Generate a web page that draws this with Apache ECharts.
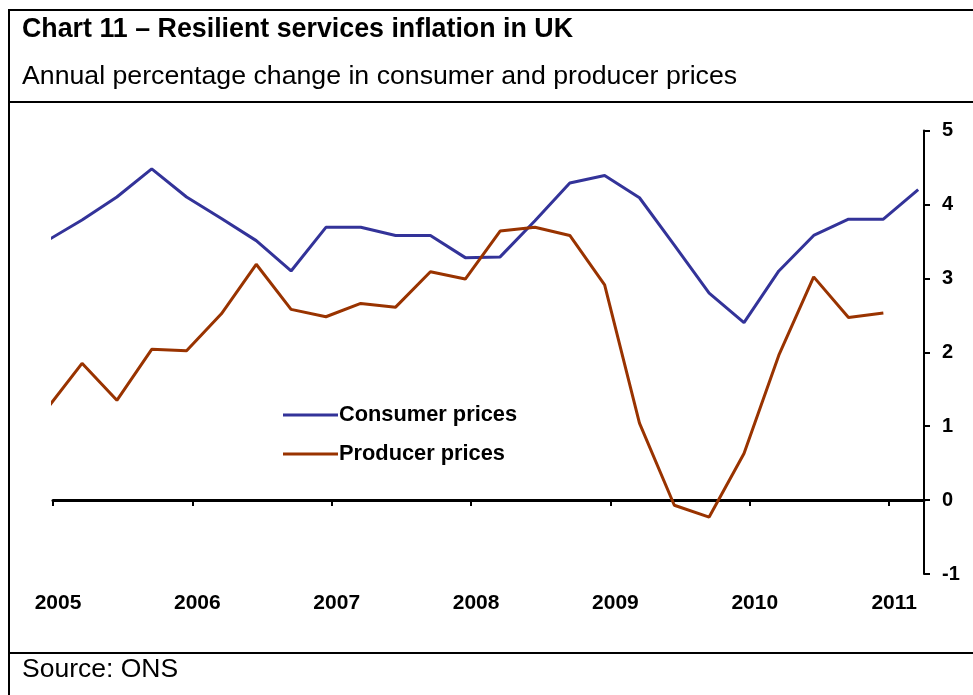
<!DOCTYPE html>
<html>
<head>
<meta charset="utf-8">
<script src="https://cdn.jsdelivr.net/npm/echarts@6/dist/echarts.min.js"></script>
<style>
html,body{margin:0;padding:0;background:#fff;}
#chart{width:973px;height:695px;}
</style>
</head>
<body>
<div id="chart"></div>
<script>
// Quarterly observations (plotted at the middle of the last month of each quarter)
var quarters = ['2004 Q4',
  '2005 Q1','2005 Q2','2005 Q3','2005 Q4',
  '2006 Q1','2006 Q2','2006 Q3','2006 Q4',
  '2007 Q1','2007 Q2','2007 Q3','2007 Q4',
  '2008 Q1','2008 Q2','2008 Q3','2008 Q4',
  '2009 Q1','2009 Q2','2009 Q3','2009 Q4',
  '2010 Q1','2010 Q2','2010 Q3','2010 Q4',
  '2011 Q1'];
var consumerPrices = [3.51,
  3.79, 4.10, 4.48, 4.10,
  3.81, 3.51, 3.10, 3.69,
  3.69, 3.58, 3.58, 3.28,
  3.29, 3.78, 4.29, 4.39,
  4.09, 3.45, 2.80, 2.40,
  3.10, 3.58, 3.80, 3.80,
  4.20];
var producerPrices = [1.24,
  1.85, 1.35, 2.04, 2.02,
  2.52, 3.19, 2.58, 2.48,
  2.66, 2.61, 3.09, 2.99,
  3.64, 3.69, 3.58, 2.91,
  1.04, -0.07, -0.23, 0.63,
  1.96, 3.02, 2.47, 2.53,
  null];
var yearTicks = [2005, 2006, 2007, 2008, 2009, 2010, 2011];
var yTicks = [-1, 0, 1, 2, 3, 4, 5];

function quarterToYear(q) {
  var parts = q.split(' Q');
  var y = parseInt(parts[0], 10), n = parseInt(parts[1], 10);
  return y + (3 * n - 0.5) / 12;
}
function pairs(vals) {
  var out = [];
  for (var i = 0; i < quarters.length; i++) {
    if (vals[i] !== null && vals[i] !== undefined) out.push([quarterToYear(quarters[i]), vals[i]]);
  }
  return out;
}

var chart = echarts.init(document.getElementById('chart'), null, {renderer: 'canvas'});
var FONT = 'Arial, "Liberation Sans", Helvetica, sans-serif';

var option = {
  animation: false,
  backgroundColor: '#ffffff',
  grid: {left: 53, right: 49, top: 130.5, bottom: 121, containLabel: false},
  xAxis: {
    type: 'value',
    min: yearTicks[0],
    max: yearTicks[yearTicks.length - 1] + 0.25,
    interval: 1,
    axisLine: {show: true, onZero: true, lineStyle: {color: '#000', width: 3}},
    axisTick: {show: true, inside: false, length: 6, lineStyle: {color: '#000', width: 2}},
    axisLabel: {
      show: true, margin: 19, color: '#000', fontFamily: FONT, fontWeight: 'bold', fontSize: 21,
      padding: [0, 0, 0, 10],
      formatter: function (v) {
        return Math.abs(v - Math.round(v)) < 1e-6 && yearTicks.indexOf(Math.round(v)) >= 0 ? String(Math.round(v)) : '';
      }
    },
    splitLine: {show: false}
  },
  yAxis: {
    type: 'value',
    position: 'right',
    min: yTicks[0],
    max: yTicks[yTicks.length - 1],
    interval: 1,
    axisLine: {show: true, onZero: false, lineStyle: {color: '#000', width: 2}},
    axisTick: {show: true, inside: false, length: 6, lineStyle: {color: '#000', width: 2}},
    axisLabel: {show: true, margin: 18, color: '#000', fontFamily: FONT, fontWeight: 'bold', fontSize: 20},
    splitLine: {show: false}
  },
  legend: {
    show: true,
    orient: 'vertical',
    left: 278,
    top: 399,
    itemWidth: 55,
    itemHeight: 20,
    itemGap: 17,
    data: [
      {name: 'Consumer prices', icon: 'path://M0,9 L55,9 L55,12 L0,12 Z'},
      {name: 'Producer prices', icon: 'path://M0,9 L55,9 L55,12 L0,12 Z'}
    ],
    textStyle: {color: '#000', fontFamily: FONT, fontWeight: 'bold', fontSize: 21.8, padding: [0, 0, 0, -4]}
  },
  series: [
    {
      name: 'Consumer prices', type: 'line', data: pairs(consumerPrices),
      symbol: 'none', clip: true,
      lineStyle: {color: '#333399', width: 3}, itemStyle: {color: '#333399'}
    },
    {
      name: 'Producer prices', type: 'line', data: pairs(producerPrices),
      symbol: 'none', clip: true,
      lineStyle: {color: '#993300', width: 3}, itemStyle: {color: '#993300'}
    }
  ],
  graphic: [
    {type: 'line', shape: {x1: 9, y1: 10, x2: 973, y2: 10}, style: {stroke: '#000', lineWidth: 2}, silent: true},
    {type: 'line', shape: {x1: 9, y1: 9, x2: 9, y2: 695}, style: {stroke: '#000', lineWidth: 2}, silent: true},
    {type: 'line', shape: {x1: 9, y1: 102, x2: 973, y2: 102}, style: {stroke: '#000', lineWidth: 2}, silent: true},
    {type: 'line', shape: {x1: 9, y1: 653, x2: 973, y2: 653}, style: {stroke: '#000', lineWidth: 2}, silent: true},
    {type: 'text', left: 22, top: 16, style: {text: 'Chart 11 – Resilient services inflation in UK', fill: '#000', font: 'bold 26.8px ' + FONT}, silent: true},
    {type: 'text', left: 22, top: 63, style: {text: 'Annual percentage change in consumer and producer prices', fill: '#000', font: '26.7px ' + FONT}, silent: true},
    {type: 'text', left: 22, top: 656, style: {text: 'Source: ONS', fill: '#000', font: '26.5px ' + FONT}, silent: true}
  ]
};
chart.setOption(option);
</script>
</body>
</html>
